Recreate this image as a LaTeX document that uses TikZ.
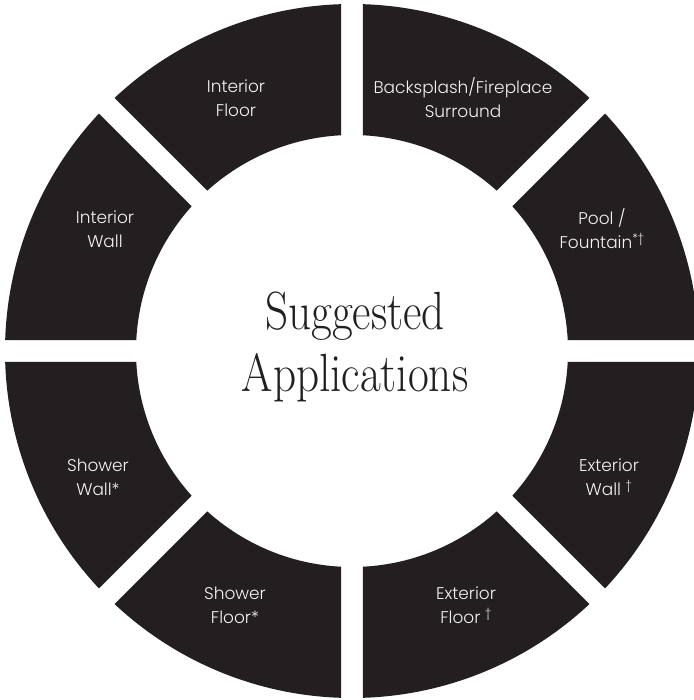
\documentclass[tikz,border=0pt]{standalone}
\usepackage{fontspec}
\newfontfamily\segfont{Poppins Light}
\definecolor{ink}{HTML}{231F20}
\definecolor{paper}{HTML}{F2F2F2}

\begin{document}
\begin{tikzpicture}[x=1bp,y=1bp,
		seglabel/.style={text=paper, align=center, font=\segfont\fontsize{17}{24}\selectfont},
		title/.style={text=ink, anchor=base, xscale=0.84, transform shape, font=\fontsize{54}{62}\selectfont}]
		\useasboundingbox (-352,-349) rectangle (342,351);
		\clip (-352,-349) rectangle (342,351);
		\def\Rout{347}
		\def\Rin{216}
		\pgfmathsetmacro\aout{asin(11/\Rout)}
		\pgfmathsetmacro\ain{asin(11/\Rin)}
		% eight ring pieces, gaps along 0, 45, 90 and 135 degrees
		\foreach \k in {0,...,7}{
			\pgfmathsetmacro\ta{45*\k}
			\pgfmathsetmacro\tb{45*\k+45}
			\fill[ink] (\ta+\aout:\Rout) arc[start angle=\ta+\aout, end angle=\tb-\aout, radius=\Rout]
				-- (\tb-\ain:\Rin) arc[start angle=\tb-\ain, end angle=\ta+\ain, radius=\Rin] -- cycle;
		}
		\node[seglabel] (pool) at (250,122) {Pool /\\Fountain\textsuperscript{*†}};
		\node[seglabel] (backsplash) at (111,253) {Backsplash/Fireplace\\Surround};
		\node[seglabel] (intfloor) at (-116,253) {Interior\\Floor};
		\node[seglabel] (intwall) at (-247,122) {Interior\\Wall};
		\node[seglabel] (shwall) at (-254,-126) {Shower\\Wall*};
		\node[seglabel] (shfloor) at (-117,-254) {Shower\\Floor*};
		\node[seglabel] (extfloor) at (114,-254) {Exterior\\Floor \textsuperscript{†}};
		\node[seglabel] (extwall) at (257,-126) {Exterior\\Wall \textsuperscript{†}};
		\node[title] (sugg) at (3,21) {Suggested};
		\node[title] (appl) at (3,-41) {Applications};
	\end{tikzpicture}
\end{document}
